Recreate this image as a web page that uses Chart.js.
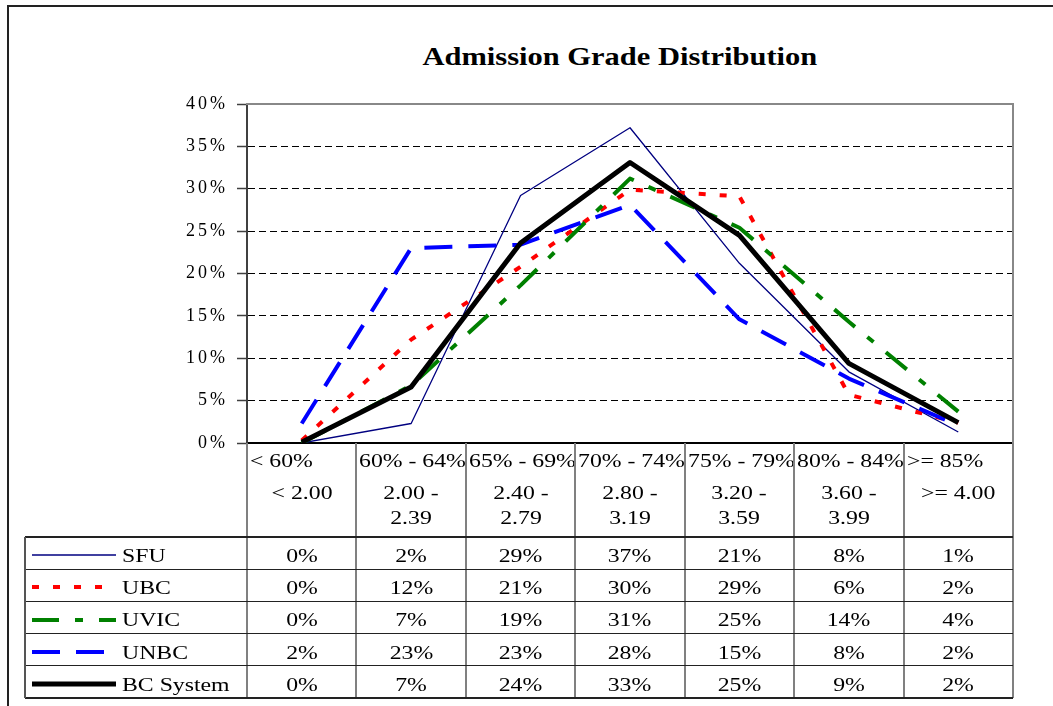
<!DOCTYPE html>
<html>
<head>
<meta charset="utf-8">
<script src="https://cdn.jsdelivr.net/npm/chart.js@4.4.0/dist/chart.umd.min.js"></script>
<style>
body { margin: 0; background: #fff; }
#wrap { position: relative; width: 1053px; height: 706px; overflow: hidden; font-family: 'Liberation Serif', 'Times New Roman', serif; color: #000; }
#frame { position: absolute; left: 7px; top: 5px; width: 1100px; height: 760px; border-left: 2px solid #222; border-top: 2px solid #222; }
#title { position: absolute; left: 186px; width: 867px; top: 44px; line-height: 25px; text-align: center; font-weight: bold; font-size: 25px; white-space: nowrap; }
#title span { display: inline-block; transform: scaleX(1.22); }
canvas { position: absolute; left: 0; top: 0; }
#table { position: absolute; left: 0; top: 0; width: 1053px; height: 706px; }
.ln { position: absolute; }
.cell { position: absolute; box-sizing: border-box; overflow: hidden; font-size: 18px; white-space: nowrap; }
.cell svg { display: block; }
.st { display: inline-block; transform: scaleX(1.32); }
</style>
</head>
<body>
<div id="wrap">
  <div id="frame"></div>
  <div id="title"><span>Admission Grade Distribution</span></div>
  <canvas id="grades" width="1053" height="706"></canvas>
  <div id="table"></div>
</div>
<script>
// grade bands (first line = percent, second = GPA)
const rangePct = ['< 60%', '60% - 64%', '65% - 69%', '70% - 74%', '75% - 79%', '80% - 84%', '>= 85%'];
const rangeGpa = ['< 2.00', '2.00 -\n2.39', '2.40 -\n2.79', '2.80 -\n3.19', '3.20 -\n3.59', '3.60 -\n3.99', '>= 4.00'];

// share of admissions in each band, %
const sfu = [0, 2.3, 29.2, 37.2, 21.2, 8.4, 1.3];
const ubc = [0.3, 12.2, 20.8, 29.9, 29.1, 5.7, 2.4];
const uvic = [0, 6.8, 18.6, 31.2, 25.4, 14.3, 3.7];
const unbc = [2.3, 23.0, 23.4, 28.1, 14.6, 7.6, 2.1];
const bcSystem = [0.1, 6.6, 23.6, 33.1, 24.5, 9.4, 2.4];

const yTicks = [0, 5, 10, 15, 20, 25, 30, 35, 40];

const datasets = [
    { label: 'SFU', data: sfu, borderColor: '#000080', borderWidth: 1.3, borderDash: [], order: 5 },
    { label: 'UBC', data: ubc, borderColor: '#ff0000', borderWidth: 4, borderDash: [7, 14], order: 4 },
    { label: 'UVIC', data: uvic, borderColor: '#008000', borderWidth: 4, borderDash: [27, 16, 8, 16], order: 3 },
    { label: 'UNBC', data: unbc, borderColor: '#0000ff', borderWidth: 4, borderDash: [28, 16], order: 2 },
    { label: 'BC System', data: bcSystem, borderColor: '#000000', borderWidth: 5, borderDash: [], order: 1 }
]

datasets.forEach(d => {
    d.fill = false
    d.pointRadius = 0
    d.tension = 0
    d.borderJoinStyle = 'round'
})

// Excel stretches the axis text a bit
const spacing = {
    id: 'spacing',
    beforeDraw(c) { c.ctx.letterSpacing = '3px' },
    beforeLayout(c) { c.ctx.letterSpacing = '3px' }
}

const ctx = document.querySelector('#grades')
const chart = new Chart(ctx, {
    type: 'line',
    data: { labels: rangePct, datasets: datasets },
    plugins: [spacing],
    options: {
        responsive: false,
        animation: false,
        devicePixelRatio: 1,
        layout: { padding: { top: 104, right: 40, left: 0, bottom: 0 } },
        plugins: { legend: { display: false }, tooltip: { enabled: false } },
        scales: {
            x: {
                type: 'category',
                offset: true,
                grid: { display: false },
                ticks: { display: false },
                border: { color: '#000', width: 2 },
                afterFit(s) { s.height = 263 }
            },
            y: {
                min: 0,
                max: 40,
                afterBuildTicks(s) { s.ticks = yTicks.map(v => ({ value: v })) },
                ticks: {
                    callback: v => v + '%',
                    color: '#000',
                    padding: 9,
                    font: { family: 'Liberation Serif', size: 18 }
                },
                grid: { color: '#000', lineWidth: 1, tickLength: 10, tickColor: '#404040', tickWidth: 1.5, tickBorderDash: [] },
                border: { color: '#404040', width: 2, dash: [7, 4] },
                afterFit(s) { s.width = 247 }
            },
            yr: {
                position: 'right',
                min: 0,
                max: 40,
                ticks: { display: false },
                grid: { display: false, drawTicks: false },
                border: { color: '#888', width: 2 },
                afterFit(s) { s.width = 0 }
            },
            xt: {
                position: 'top',
                type: 'category',
                labels: rangePct,
                ticks: { display: false },
                grid: { display: false, drawTicks: false },
                border: { color: '#888', width: 2 },
                afterFit(s) { s.height = 0 }
            }
        }
    }
})

// data table under the plot, columns taken from the x scale
function addBox(parent, cls, l, t, w, h, css) {
    const el = document.createElement('div')
    el.className = cls
    el.style.left = l + 'px'
    el.style.top = t + 'px'
    el.style.width = w + 'px'
    el.style.height = h + 'px'
    if (css) Object.assign(el.style, css)
    parent.appendChild(el)
    return el
}

function buildTable() {
    const tbl = document.querySelector('#table')
    const xs = chart.scales.x
    const area = chart.chartArea
    const colW = xs.getPixelForValue(1) - xs.getPixelForValue(0)
    const edges = rangePct.map((c, i) => xs.getPixelForValue(i) - colW / 2)
    edges.push(area.right)

    const headTop = area.bottom
    const headBot = 537
    const tableBot = 698
    const legLeft = 25
    const rowH = (tableBot - headBot) / datasets.length

    // header: band labels
    rangePct.forEach((c, i) => {
        const a = addBox(tbl, 'cell', edges[i] + 3, headTop + 9, colW - 4, 20, { lineHeight: '18px' })
        const s = document.createElement('span')
        s.className = 'st'
        s.style.transformOrigin = 'left center'
        s.textContent = c
        a.appendChild(s)

        const b = addBox(tbl, 'cell', edges[i] + 1, 481, colW - 2, 52, { lineHeight: '25px', textAlign: 'center', whiteSpace: 'pre-line' })
        const s2 = document.createElement('span')
        s2.className = 'st'
        s2.textContent = rangeGpa[i]
        b.appendChild(s2)
    })

    // rows: legend key + rounded values
    datasets.forEach((d, r) => {
        const top = headBot + r * rowH
        const key = addBox(tbl, 'cell', 32, top + rowH / 2 - 3, 84, 10)
        const dash = d.borderDash.length ? ` stroke-dasharray="${d.borderDash.join(' ')}"` : ''
        key.innerHTML = `<svg width="84" height="10"><line x1="0" y1="5" x2="84" y2="5" stroke="${d.borderColor}" stroke-width="${d.borderWidth}"${dash} stroke-linecap="${d.borderWidth > 4 ? 'round' : 'butt'}"/></svg>`

        const lab = addBox(tbl, 'cell', 122, top, 124, rowH, { lineHeight: rowH + 'px', paddingTop: '3px' })
        const ls = document.createElement('span')
        ls.className = 'st'
        ls.style.transformOrigin = 'left center'
        ls.textContent = d.label
        lab.appendChild(ls)

        d.data.forEach((v, i) => {
            const c = addBox(tbl, 'cell', edges[i], top, colW, rowH, { lineHeight: rowH + 'px', paddingTop: '3px', textAlign: 'center' })
            const s = document.createElement('span')
            s.className = 'st'
            s.textContent = Math.round(v) + '%'
            c.appendChild(s)
        })
    })

    // grid lines
    edges.forEach(x => addBox(tbl, 'ln', x - 1, headTop, 2, tableBot - headTop, { background: '#808080' }))
    for (let r = 0; r <= datasets.length; r++) {
        const y = headBot + r * rowH
        const w = (r === 0 || r === datasets.length) ? 2 : 1
        addBox(tbl, 'ln', legLeft, Math.round(y - w / 2), area.right - legLeft, w, { background: '#222' })
    }
    addBox(tbl, 'ln', legLeft - 1, headBot, 2, tableBot - headBot, { background: '#555' })
}

buildTable()
</script>
</body>
</html>
